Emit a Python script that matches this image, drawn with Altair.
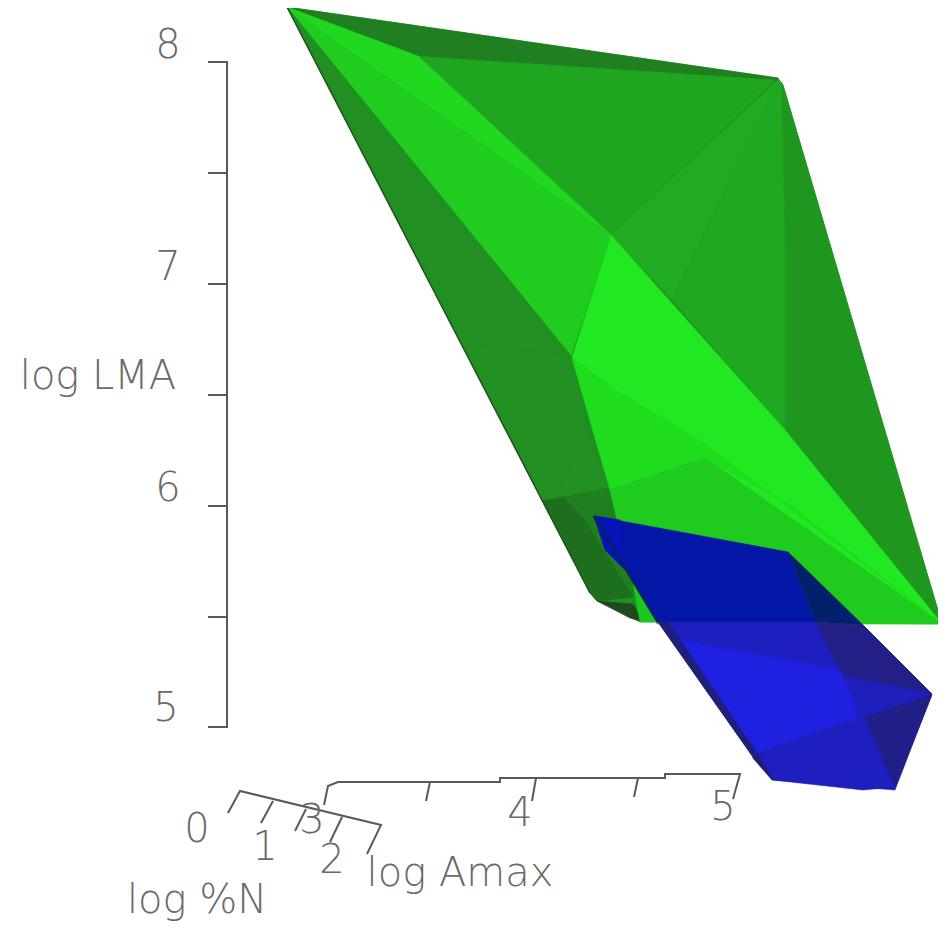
import altair as alt
import pandas as pd

# Chart values: (projected x, projected y) of the hull faces
FACE_COLORS = [
    "#1f8f1f", "#1f1fbb",
    "#207f20", "#1fa51f", "#1f971f", "#21ab21", "#20a920", "#22e822", "#20d820", "#1fcc1f",
    "#218f21", "#218f21", "#229022", "#208020", "#1d6e1d", "#1f4a1f", "#1fc51f", "#1fdc1f", "#1ecb1e",
    "#0416a6", "#0513b8", "#03206a", "#1f1fbf", "#231f86", "#1f1fbb", "#1f1f87", "#2020e0", "#1f1fbf", "#1f1f77",
]
FACE_X = [
    [287, 778, 783, 942, 657, 640, 605, 597, 590],
    [658, 863, 932, 895, 773, 753],
    [287, 778, 775, 413], [413, 775, 611], [781, 783, 942, 785, 785, 781], [778, 611, 672],
    [778, 781, 785, 785, 672], [611, 785, 942, 705, 572], [287, 418, 611], [287, 611, 571],
    [287, 571, 461], [461, 571, 589, 562, 563, 550, 542], [562, 589, 608, 563],
    [563, 608, 617, 637, 633, 583], [542, 550, 563, 583, 633, 597, 590],
    [597, 633, 643, 630], [633, 640, 657, 640],
    [572, 610, 705, 790, 942, 700, 620], [610, 705, 942, 657, 637, 617],
    [594, 788, 816, 658], [594, 620, 625, 605], [788, 863, 816],
    [658, 816, 840, 680], [816, 863, 932, 843], [847, 928, 913, 863, 858], [865, 932, 895, 880],
    [680, 840, 858, 857, 757], [757, 865, 895, 863, 773], [658, 668, 680, 757, 773, 753],
]
FACE_Y = [
    [7, 78, 85, 624, 622, 622, 604, 601, 593],
    [622, 625, 694, 790, 780, 757],
    [7, 78, 82, 56], [56, 80, 235], [82, 85, 624, 430, 252, 252], [80, 235, 300],
    [80, 82, 252, 430, 300], [235, 430, 624, 458, 358], [7, 56, 235], [7, 235, 356],
    [7, 356, 343], [343, 356, 440, 480, 497, 500, 500], [480, 440, 488, 497],
    [497, 488, 520, 583, 597, 518], [500, 500, 497, 518, 597, 601, 593],
    [601, 604, 622, 618], [583, 590, 622, 622],
    [358, 490, 458, 505, 624, 440, 393], [490, 458, 624, 624, 585, 520],
    [516, 552, 622, 622], [516, 520, 570, 550], [552, 625, 622],
    [622, 622, 670, 640], [622, 625, 694, 675], [677, 692, 700, 717, 710], [717, 695, 787, 753],
    [640, 670, 713, 718, 753], [755, 722, 787, 790, 780], [622, 622, 640, 753, 780, 757],
]
EDGE_COLORS = ["#245224", "#03216b", "#1f1f77"]
EDGE_WIDTHS = [1.5, 3.0, 2.0]
EDGE_X = [[287, 590], [594, 658], [753, 773]]
EDGE_Y = [[7, 593], [516, 622], [757, 780]]

AXIS_X = [
    [208, 227, 227, 208], [208, 227], [208, 227], [208, 227], [208, 227], [208, 227],
    [324, 328, 338, 500, 500, 665, 665, 740, 733],
    [430, 426], [536, 532], [638, 634],
    [228, 240, 381, 367], [273, 261], [306, 295], [342, 330],
]
AXIS_Y = [
    [62, 62, 727, 727], [173, 173], [284, 284], [395, 395], [506, 506], [617, 617],
    [805, 786, 782, 782, 778, 778, 774, 774, 799],
    [782, 801], [778, 801], [778, 797],
    [813, 791, 825, 854], [801, 823], [809, 831], [817, 842],
]
LABELS = ["8", "7", "6", "5", "log LMA", "0", "1", "2", "3", "4", "5", "log Amax", "log %N"]
LABEL_X = [168, 168, 168, 166, 98, 197, 265, 332, 312, 520, 723, 460, 197]
LABEL_Y = [46, 268, 489, 709, 377, 830, 848, 861, 821, 814, 808, 874, 901]

faces = pd.DataFrame([
    {"face": i, "k": k, "x": x, "y": y, "c": FACE_COLORS[i]}
    for i in range(len(FACE_X))
    for k, (x, y) in enumerate(zip(FACE_X[i], FACE_Y[i]))
])
edges = pd.DataFrame([
    {"e": i, "k": k, "x": x, "y": y, "c": EDGE_COLORS[i], "w": EDGE_WIDTHS[i]}
    for i in range(len(EDGE_X))
    for k, (x, y) in enumerate(zip(EDGE_X[i], EDGE_Y[i]))
])
axes = pd.DataFrame([
    {"a": i, "k": k, "x": x, "y": y}
    for i in range(len(AXIS_X))
    for k, (x, y) in enumerate(zip(AXIS_X[i], AXIS_Y[i]))
])
labels = pd.DataFrame({"t": LABELS, "x": LABEL_X, "y": LABEL_Y, "i": range(len(LABELS))})

X = alt.X("x:Q", scale=alt.Scale(domain=[8, 938], nice=False, zero=False), axis=None)
Y = alt.Y("y:Q", scale=alt.Scale(domain=[924, 8], nice=False, zero=False), axis=None)

face_layer = alt.Chart(faces).mark_line(strokeWidth=0.6, interpolate="linear-closed").encode(
    x=X, y=Y, detail="face:N", order="k:Q",
    fill=alt.Fill("c:N", scale=None), stroke=alt.Stroke("c:N", scale=None),
)
edge_layer = alt.Chart(edges).mark_line().encode(
    x=X, y=Y, detail="e:N", order="k:Q",
    stroke=alt.Stroke("c:N", scale=None), strokeWidth=alt.StrokeWidth("w:Q", scale=None),
)
axis_layer = alt.Chart(axes).mark_line(color="#5a5a5a", strokeWidth=2).encode(
    x=X, y=Y, detail="a:N", order="k:Q",
)
text_layer = alt.Chart(labels).mark_text(
    font="DejaVu Sans", fontSize=40, fontWeight=200, color="#6a6a6a", baseline="middle", align="center"
).encode(x=X, y=Y, text="t:N", detail="i:N")

chart = alt.layer(face_layer, edge_layer, axis_layer, text_layer).properties(
    width=930, height=916, padding=0, background="white",
    autosize=alt.AutoSizeParams(type="none", contains="padding"),
).configure_view(stroke=None)

chart.save("out.html", embed_options={"renderer": "svg", "actions": False})
